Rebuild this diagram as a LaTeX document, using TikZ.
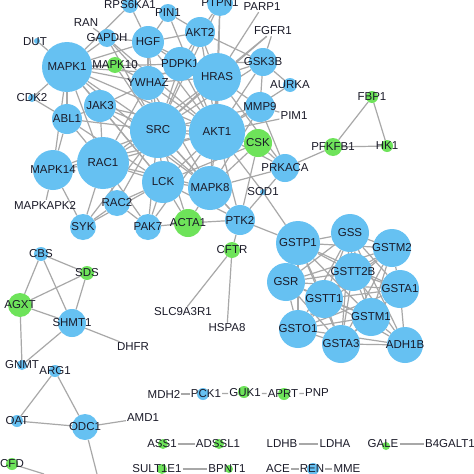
\documentclass[tikz,border=0pt]{standalone}
\usepackage{fontspec}
\setmainfont{Liberation Sans}
\definecolor{nodeblue}{HTML}{66C1F2}
\definecolor{nodegreen}{HTML}{6EE35A}
\definecolor{edgegray}{HTML}{A8A8A8}
\definecolor{txt}{HTML}{1A1A28}
\pgfdeclarelayer{bg}
\pgfsetlayers{bg,main}
\tikzset{
  bn/.style={circle, fill=nodeblue, draw=none, inner sep=0pt},
  gn/.style={circle, fill=nodegreen, draw=none, inner sep=0pt},
  lab/.style={font=\fontsize{11.5}{11.5}\selectfont, text=txt, inner sep=1pt},
  ed/.style={draw=edgegray, line width=1.2pt}
}
\newcommand{\nd}[5]{\node[#1, minimum size=#2pt] (#3) at (#4) {}; \node[lab] (#3-l) at (#4) {#5};}
\begin{document}
\begin{tikzpicture}[x=1pt,y=-1pt]
\useasboundingbox (0,0) rectangle (474,474);
% main cluster
\nd{bn}{50}{MAPK1}{67,67}{MAPK1}
\nd{bn}{16}{RPS6KA1}{130,5}{RPS6KA1}
\node[lab] (RAN) at (86,23) {RAN};
\nd{bn}{18}{GAPDH}{107,38}{GAPDH}
\node[bn, minimum size=6pt] (DUT) at (37,41) {}; \node[lab] at (35,42) {DUT};
\nd{bn}{32}{HGF}{148,42}{HGF}
\nd{bn}{18}{PIN1}{168,13}{PIN1}
\nd{bn}{26}{PTPN1}{220,3}{PTPN1}
\node[lab] (PARP1) at (262,7) {PARP1};
\node[lab] (FGFR1) at (273,31) {FGFR1};
\nd{bn}{30}{AKT2}{200,32}{AKT2}
\nd{gn}{16}{MAPK10}{115,65}{MAPK10}
\nd{bn}{34}{PDPK1}{180,64}{PDPK1}
\nd{bn}{48}{HRAS}{217,77}{HRAS}
\nd{bn}{28}{GSK3B}{263,62}{GSK3B}
\nd{bn}{14}{AURKA}{290,85}{AURKA}
\nd{bn}{34}{YWHAZ}{148,83}{YWHAZ}
\nd{bn}{8}{CDK2}{32,98}{CDK2}
\nd{bn}{32}{JAK3}{100,106}{JAK3}
\nd{bn}{30}{MMP9}{260,107}{MMP9}
\node[lab] (PIM1) at (294,116) {PIM1};
\nd{bn}{30}{ABL1}{67,119}{ABL1}
\nd{bn}{56}{SRC}{158,130}{SRC}
\nd{bn}{56}{AKT1}{217,132}{AKT1}
\nd{gn}{28}{CSK}{258,143}{CSK}
\nd{bn}{40}{MAPK14}{53,170}{MAPK14}
\nd{bn}{52}{RAC1}{103,163}{RAC1}
\nd{bn}{42}{LCK}{163,182}{LCK}
\nd{bn}{44}{MAPK8}{210,188}{MAPK8}
\nd{bn}{28}{PRKACA}{285,168}{PRKACA}
\nd{bn}{6}{SOD1}{263,192}{SOD1}
\node[lab] (MAPKAPK2) at (45,205) {MAPKAPK2};
\nd{bn}{26}{RAC2}{117,203}{RAC2}
\nd{bn}{26}{SYK}{83,227}{SYK}
\nd{bn}{26}{PAK7}{148,227}{PAK7}
\nd{gn}{28}{ACTA1}{188,223}{ACTA1}
\nd{bn}{30}{PTK2}{240,220}{PTK2}
\nd{gn}{16}{CFTR}{232,250}{CFTR}
\node[lab] (SLC9A3R1) at (183,312) {SLC9A3R1};
\node[lab] (HSPA8) at (227,328) {HSPA8};
\nd{gn}{12}{FBP1}{372,97}{FBP1}
\nd{gn}{12}{HK1}{387,146}{HK1}
\nd{gn}{18}{PFKFB1}{333,147}{PFKFB1}
% GST cluster
\nd{bn}{44}{GSTP1}{298,243}{GSTP1}
\nd{bn}{38}{GSS}{350,233}{GSS}
\nd{bn}{38}{GSTM2}{392,248}{GSTM2}
\nd{bn}{38}{GSTT2B}{353,272}{GSTT2B}
\nd{bn}{38}{GSR}{286,282}{GSR}
\nd{bn}{38}{GSTA1}{400,289}{GSTA1}
\nd{bn}{38}{GSTT1}{324,299}{GSTT1}
\nd{bn}{38}{GSTM1}{371,317}{GSTM1}
\nd{bn}{38}{GSTO1}{298,329}{GSTO1}
\nd{bn}{38}{GSTA3}{341,344}{GSTA3}
\nd{bn}{36}{ADH1B}{405,345}{ADH1B}
% lower left
\nd{bn}{14}{CBS}{41,254}{CBS}
\nd{gn}{14}{SDS}{87,273}{SDS}
\nd{gn}{24}{AGXT}{20,305}{AGXT}
\nd{bn}{28}{SHMT1}{72,323}{SHMT1}
\node[lab] (DHFR) at (133,347) {DHFR};
\nd{bn}{10}{GNMT}{22,365}{GNMT}
\nd{bn}{12}{ARG1}{55,371}{ARG1}
\nd{bn}{12}{OAT}{17,421}{OAT}
\nd{bn}{26}{ODC1}{85,427}{ODC1}
\node[lab] (AMD1) at (143,418) {AMD1};
\nd{gn}{12}{CFD}{12,464}{CFD}
\coordinate (offA) at (97,474);
\coordinate (offB) at (44,474);
% bottom chains
\node[lab] (MDH2) at (164,394) {MDH2};
\node[bn, minimum size=12pt] at (203,394) {}; \node[lab] (PCK1) at (206,394) {PCK1};
\node[gn, minimum size=12pt] at (244,392) {}; \node[lab] (GUK1) at (245,393) {GUK1};
\node[gn, minimum size=12pt] at (284,394) {}; \node[lab] (APRT) at (283,394) {APRT};
\node[lab] (PNP) at (317,393) {PNP};
\node[gn, minimum size=10pt] at (163,444) {}; \node[lab] (ASS1) at (162,444) {ASS1};
\node[gn, minimum size=10pt] at (219,444) {}; \node[lab] (ADSSL1) at (218,444) {ADSSL1};
\node[lab] (LDHB) at (282,444) {LDHB};
\node[lab] (LDHA) at (335,444) {LDHA};
\node[gn, minimum size=8pt] at (386,446) {}; \node[lab] (GALE) at (383,444) {GALE};
\node[lab] (B4GALT1) at (450,444) {B4GALT1};
\node[gn, minimum size=10pt] at (162,469) {}; \node[lab] (SULT1E1) at (157,469) {SULT1E1};
\node[gn, minimum size=8pt] at (229,469) {}; \node[lab] (BPNT1) at (227,469) {BPNT1};
\node[lab] (ACE) at (278,469) {ACE};
\node[bn, minimum size=12pt] at (313,469) {}; \node[lab] (REN) at (312,469) {REN};
\node[lab] (MME) at (347,469) {MME};
\begin{pgfonlayer}{bg}
\fill[white] (0,0) rectangle (474,474);
\foreach \a/\b in {
 MAPK1/DUT, MAPK1/CDK2, MAPK1/GAPDH, MAPK1/RPS6KA1, MAPK1/HGF, MAPK1/MAPK10, MAPK1/YWHAZ,
 MAPK1/JAK3, MAPK1/ABL1, MAPK1/MAPK14, MAPK1/RAC1, MAPK1/SRC, MAPK1/AKT1, MAPK1/HRAS,
 MAPK1/PDPK1, MAPK1/MAPK8, MAPK1/LCK, RAN/GAPDH, RPS6KA1/HGF,
 CDK2/ABL1, ABL1/JAK3, ABL1/RAC1, ABL1/SRC, ABL1/MAPK14, ABL1/LCK,
 JAK3/SRC, JAK3/LCK, JAK3/RAC1, JAK3/AKT1, JAK3/MAPK8,
 GAPDH/HGF, GAPDH/AKT1, GAPDH/SRC, GAPDH/YWHAZ,
 HGF/AKT2, HGF/HRAS, HGF/SRC, HGF/PIN1, HGF/AKT1, HGF/PDPK1, HGF/YWHAZ,
 PIN1/AKT2, PIN1/AKT1, PTPN1/AKT2, PTPN1/HRAS, PTPN1/SRC, PTPN1/AKT1,
 PARP1/HRAS, FGFR1/SRC, FGFR1/GSK3B, FGFR1/HRAS,
 AKT2/PDPK1, AKT2/HRAS, AKT2/GSK3B, AKT2/AKT1, AKT2/SRC,
 PDPK1/HRAS, PDPK1/AKT1, PDPK1/SRC, PDPK1/YWHAZ, PDPK1/GSK3B,
 HRAS/SRC, HRAS/AKT1, HRAS/GSK3B, HRAS/MMP9, HRAS/RAC1, HRAS/MAPK8, HRAS/YWHAZ, HRAS/PRKACA,
 GSK3B/AKT1, GSK3B/AURKA, GSK3B/MMP9, GSK3B/SRC, AURKA/AKT1, MMP9/PIM1, AKT1/PIM1,
 MMP9/AKT1, MMP9/SRC, MMP9/MAPK8, MMP9/PRKACA,
 YWHAZ/SRC, YWHAZ/AKT1, YWHAZ/MAPK8, YWHAZ/RAC1, YWHAZ/JAK3, MAPK10/YWHAZ, MAPK10/SRC,
 SRC/AKT1, SRC/RAC1, SRC/LCK, SRC/MAPK8, SRC/MAPK14, SRC/SYK, SRC/PTK2, SRC/CSK, SRC/PAK7, SRC/ACTA1, SRC/RAC2,
 AKT1/CSK, AKT1/MAPK8, AKT1/LCK, AKT1/PRKACA, AKT1/RAC1, AKT1/PTK2, AKT1/SOD1, AKT1/MAPK14, AKT1/PAK7,
 CSK/LCK, CSK/PRKACA, CSK/PTK2, CSK/MAPK8,
 PRKACA/PFKFB1, PRKACA/PTK2, PRKACA/MAPK8, SOD1/GSTP1, PTK2/GSTP1,
 LCK/RAC1, LCK/MAPK8, LCK/PAK7, LCK/RAC2, LCK/SYK, LCK/PTK2, LCK/ACTA1,
 MAPK8/PTK2, MAPK8/ACTA1, MAPK8/RAC1,
 RAC1/RAC2, RAC1/SYK, RAC1/PAK7, RAC1/MAPK14,
 MAPK14/MAPKAPK2, MAPK14/SYK, RAC2/SYK, RAC2/PAK7, PAK7/ACTA1, ACTA1/PTK2,
 PTK2/CFTR, CFTR/SLC9A3R1, CFTR/HSPA8,
 PFKFB1/FBP1, PFKFB1/HK1, FBP1/HK1,
 ADH1B/GSTA1, ADH1B/GSTM1, ADH1B/GSTA3, ADH1B/GSTT1, ADH1B/GSTT2B, ADH1B/GSTO1, ADH1B/GSS,
 CBS/SDS, CBS/AGXT, CBS/SHMT1, SDS/AGXT, SDS/SHMT1, AGXT/SHMT1, AGXT/GNMT, SHMT1/GNMT, SHMT1/DHFR,
 ARG1/OAT, ARG1/ODC1, OAT/ODC1, ODC1/AMD1, ODC1/offA, CFD/offB,
 MDH2/PCK1, PCK1/GUK1, GUK1/APRT, APRT/PNP, ASS1/ADSSL1, LDHB/LDHA, GALE/B4GALT1,
 SULT1E1/BPNT1, ACE/REN, REN/MME}
 \draw[ed] (\a) -- (\b);
\foreach \a [count=\i] in {GSTP1,GSS,GSTM2,GSTT2B,GSR,GSTA1,GSTT1,GSTM1,GSTO1,GSTA3}{
  \foreach \b [count=\j] in {GSTP1,GSS,GSTM2,GSTT2B,GSR,GSTA1,GSTT1,GSTM1,GSTO1,GSTA3}{
    \ifnum\j>\i \draw[ed] (\a) -- (\b); \fi
  }
}
\end{pgfonlayer}
\end{tikzpicture}
\end{document}
